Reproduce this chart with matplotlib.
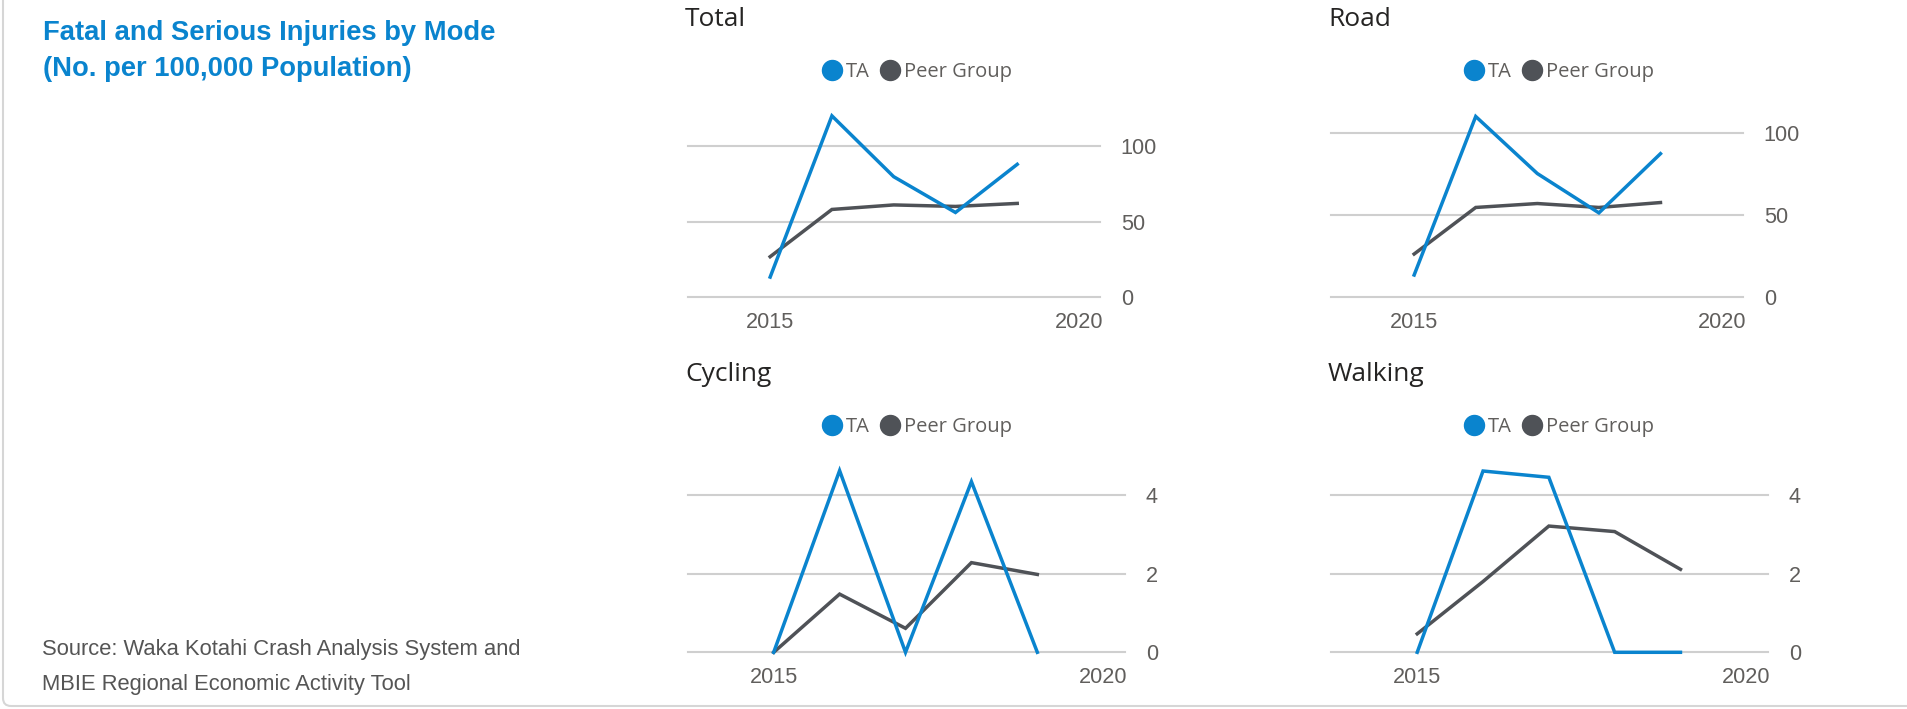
import matplotlib
matplotlib.use("Agg")
import matplotlib.pyplot as plt
from matplotlib.lines import Line2D
from matplotlib.patches import FancyBboxPatch

# ---------------- data ----------------
years = [2015, 2016, 2017, 2018, 2019]

total_ta = [13.2, 120.0, 79.7, 56.0, 87.9]
total_peer = [26.7, 58.0, 61.0, 60.0, 62.0]

road_ta = [13.6, 110.3, 75.5, 51.5, 87.6]
road_peer = [26.4, 54.8, 57.2, 54.8, 57.8]

cycling_ta = [0.0, 4.62, 0.0, 4.34, 0.0]
cycling_peer = [0.0, 1.48, 0.61, 2.28, 1.98]

walking_ta = [0.0, 4.61, 4.45, 0.0, 0.0]
walking_peer = [0.47, 1.80, 3.21, 3.07, 2.11]

panel_titles = ["Total", "Road", "Cycling", "Walking"]
series_names = ["TA", "Peer Group"]
xticks = [2015, 2020]
yticks_big = [0, 50, 100]
yticks_small = [0, 2, 4]

title_lines = ["Fatal and Serious Injuries by Mode", "(No. per 100,000 Population)"]
source_lines = ["Source: Waka Kotahi Crash Analysis System and",
                "MBIE Regional Economic Activity Tool"]

# ---------------- style ----------------
W, H = 1907, 709
DPI = 100
TA_COLOR = "#0A84CE"
PEER_COLOR = "#4F5257"
GRID_COLOR = "#CFCFCF"
TICK_COLOR = "#605E5C"
TITLE_COLOR = "#252423"

fig = plt.figure(figsize=(W / DPI, H / DPI), dpi=DPI)
fig.patch.set_facecolor("white")

# card border (left + bottom, rounded corner)
border = FancyBboxPatch((3 / DPI, 3 / DPI), (W + 40) / DPI, (H + 40) / DPI,
                        boxstyle="round,pad=0,rounding_size=0.08",
                        transform=fig.dpi_scale_trans, facecolor="none",
                        edgecolor="#D6D6D6", linewidth=1.5)
fig.patches.append(border)

for line, base in zip(title_lines, (40, 76)):
    fig.text(43 / W, 1 - base / H, line, color="#0A84CE", fontsize=19.7,
             fontweight="bold", family="Liberation Sans", va="baseline", ha="left")
for line, base in zip(source_lines, (655, 690)):
    fig.text(42 / W, 1 - base / H, line, color="#555555", fontsize=15.8,
             family="Liberation Sans", va="baseline", ha="left")


def make_axes(x0, x1, y0, ytop):
    # pixel coords: x0,x1 left/right; y0 = bottom (value 0), ytop = top (px from top)
    return fig.add_axes([x0 / W, 1 - y0 / H, (x1 - x0) / W, (y0 - ytop) / H])


panels = [
    dict(title=panel_titles[0], ta=total_ta, peer=total_peer, rect=(688, 1100, 297, 105),
         xlim=(2013.67, 2020.34), ylim=(0, 127.2), yticks=yticks_big,
         title_xy=(685, 26), legend_xy=(917, 72)),
    dict(title=panel_titles[1], ta=road_ta, peer=road_peer, rect=(1331, 1743, 297.3, 105),
         xlim=(2013.65, 2020.34), ylim=(0, 117.3), yticks=yticks_big,
         title_xy=(1328, 26), legend_xy=(1559, 72)),
    dict(title=panel_titles[2], ta=cycling_ta, peer=cycling_peer, rect=(688, 1125, 652.3, 460),
         xlim=(2013.7, 2020.33), ylim=(0, 4.89), yticks=yticks_small,
         title_xy=(685, 381), legend_xy=(917, 427)),
    dict(title=panel_titles[3], ta=walking_ta, peer=walking_peer, rect=(1331, 1768, 652.3, 460),
         xlim=(2013.69, 2020.33), ylim=(0, 4.89), yticks=yticks_small,
         title_xy=(1328, 381), legend_xy=(1559, 427)),
]

for p in panels:
    ax = make_axes(*p["rect"])
    ax.set_xlim(*p["xlim"])
    ax.set_ylim(*p["ylim"])
    ax.set_facecolor("none")
    for s in ax.spines.values():
        s.set_visible(False)
    ax.set_yticks(p["yticks"])
    ax.set_xticks(xticks)
    ax.yaxis.tick_right()
    ax.tick_params(axis="y", length=0, pad=15, labelsize=15.6, labelcolor=TICK_COLOR)
    ax.tick_params(axis="x", length=0, pad=10.5, labelsize=15.6, labelcolor=TICK_COLOR)
    for lab in ax.get_xticklabels() + ax.get_yticklabels():
        lab.set_family("Liberation Sans")
    for yt in p["yticks"]:
        ax.axhline(yt, color=GRID_COLOR, linewidth=1.5, zorder=1, clip_on=False)
    ax.plot(years, p["peer"], color=PEER_COLOR, linewidth=2.5, zorder=3,
            clip_on=False, solid_joinstyle="miter")
    ax.plot(years, p["ta"], color=TA_COLOR, linewidth=2.5, zorder=4,
            clip_on=False, solid_joinstyle="miter")

    tx, ty = p["title_xy"]
    fig.text(tx / W, 1 - ty / H, p["title"], fontsize=19, color=TITLE_COLOR,
             family="Open Sans", va="baseline", ha="left")

    handles = [Line2D([], [], marker="o", linestyle="none", markersize=14.4,
                      markerfacecolor=c, markeredgecolor=c)
               for c in (TA_COLOR, PEER_COLOR)]
    lx, ly = p["legend_xy"]
    leg = fig.legend(handles, series_names, loc="center",
                     bbox_to_anchor=(lx / W, 1 - ly / H), ncol=2, frameon=False,
                     handlelength=1.0, handletextpad=0.2, columnspacing=0.5,
                     borderpad=0, borderaxespad=0,
                     prop={"family": "Open Sans", "size": 14.5})
    for t in leg.get_texts():
        t.set_color(TICK_COLOR)

fig.savefig("out.png", dpi=DPI, facecolor="white")
